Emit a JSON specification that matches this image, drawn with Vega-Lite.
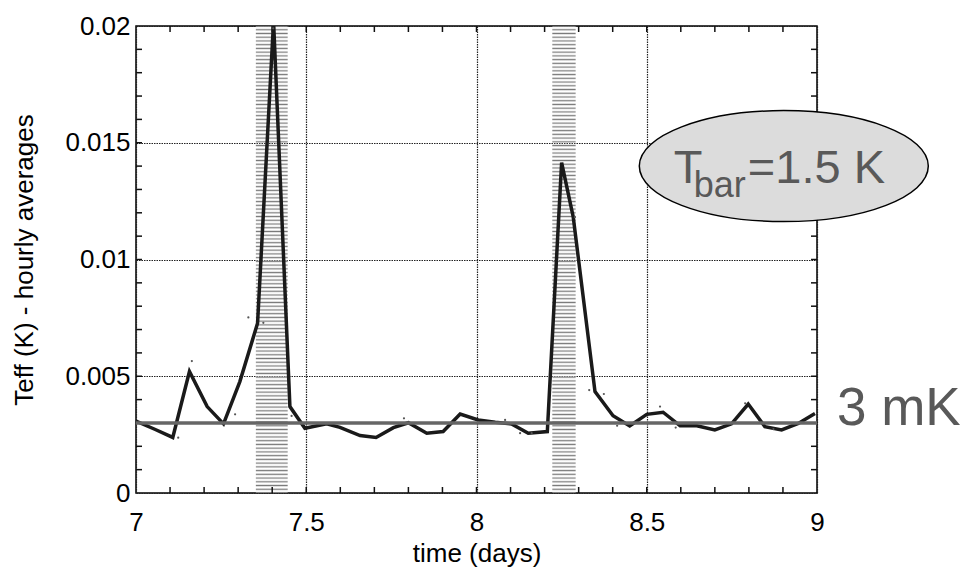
{
  "$schema": "https://vega.github.io/schema/vega-lite/v6.json",
  "width": 681,
  "height": 467,
  "autosize": "none",
  "padding": {"left": 136, "top": 26, "right": 146, "bottom": 77},
  "background": "white",
  "config": {"view": {"stroke": "#000", "strokeWidth": 1.5}, "font": "Liberation Sans"},
  "datasets": {
    "series": [
      {"t": 7.0, "teff": 0.00308}, {"t": 7.055, "teff": 0.00273}, {"t": 7.108, "teff": 0.00238},
      {"t": 7.157, "teff": 0.0052}, {"t": 7.209, "teff": 0.0037}, {"t": 7.257, "teff": 0.00296},
      {"t": 7.305, "teff": 0.00477}, {"t": 7.357, "teff": 0.00727}, {"t": 7.404, "teff": 0.0202},
      {"t": 7.452, "teff": 0.0037}, {"t": 7.496, "teff": 0.00277}, {"t": 7.56, "teff": 0.00296},
      {"t": 7.599, "teff": 0.00281}, {"t": 7.658, "teff": 0.00246}, {"t": 7.705, "teff": 0.00238},
      {"t": 7.756, "teff": 0.0028}, {"t": 7.8, "teff": 0.00301}, {"t": 7.854, "teff": 0.00256},
      {"t": 7.902, "teff": 0.00263}, {"t": 7.952, "teff": 0.00338}, {"t": 8.005, "teff": 0.00313},
      {"t": 8.055, "teff": 0.00303}, {"t": 8.103, "teff": 0.00296}, {"t": 8.152, "teff": 0.00256},
      {"t": 8.208, "teff": 0.00263}, {"t": 8.25, "teff": 0.01415}, {"t": 8.284, "teff": 0.01183},
      {"t": 8.348, "teff": 0.00434}, {"t": 8.401, "teff": 0.00331}, {"t": 8.45, "teff": 0.00287},
      {"t": 8.5, "teff": 0.00337}, {"t": 8.548, "teff": 0.00346}, {"t": 8.598, "teff": 0.00288},
      {"t": 8.647, "teff": 0.00288}, {"t": 8.7, "teff": 0.0027}, {"t": 8.749, "teff": 0.00296},
      {"t": 8.798, "teff": 0.00381}, {"t": 8.847, "teff": 0.00284}, {"t": 8.896, "teff": 0.0027},
      {"t": 8.945, "teff": 0.00298}, {"t": 8.994, "teff": 0.00341}
    ],
    "raw": [
      {"t": 7.33, "teff": 0.00752}, {"t": 7.164, "teff": 0.00565}, {"t": 7.124, "teff": 0.00237},
      {"t": 7.291, "teff": 0.00337}, {"t": 7.374, "teff": 0.00729}, {"t": 7.457, "teff": 0.0033},
      {"t": 7.787, "teff": 0.0032}, {"t": 8.084, "teff": 0.00313}, {"t": 8.128, "teff": 0.00256},
      {"t": 8.162, "teff": 0.00256}, {"t": 8.289, "teff": 0.01181}, {"t": 8.331, "teff": 0.00441},
      {"t": 8.374, "teff": 0.00424}, {"t": 8.413, "teff": 0.00288}, {"t": 8.539, "teff": 0.0037},
      {"t": 8.585, "teff": 0.0028}, {"t": 8.789, "teff": 0.00384}, {"t": 8.872, "teff": 0.00274},
      {"t": 7.403, "teff": 0.0199}
    ],
    "xticks": [
      {"v": 7.1}, {"v": 7.2}, {"v": 7.3}, {"v": 7.4}, {"v": 7.5}, {"v": 7.6}, {"v": 7.7}, {"v": 7.8}, {"v": 7.9},
      {"v": 8}, {"v": 8.1}, {"v": 8.2}, {"v": 8.3}, {"v": 8.4}, {"v": 8.5}, {"v": 8.6}, {"v": 8.7}, {"v": 8.8}, {"v": 8.9}
    ],
    "yticks": [
      {"v": 0.001}, {"v": 0.002}, {"v": 0.003}, {"v": 0.004}, {"v": 0.005}, {"v": 0.006}, {"v": 0.007}, {"v": 0.008}, {"v": 0.009},
      {"v": 0.01}, {"v": 0.011}, {"v": 0.012}, {"v": 0.013}, {"v": 0.014}, {"v": 0.015}, {"v": 0.016}, {"v": 0.017}, {"v": 0.018}, {"v": 0.019}
    ],
    "bands": [{"start": 7.352, "end": 7.4455}, {"start": 8.2226, "end": 8.2912}],
    "note": [{"x": 8.9025, "y": 0.014}],
    "level": [{"x": 7, "x2": 9, "y": 0.003, "label": "3 mK"}]
  },
  "resolve": {"axis": {"x": "independent", "y": "independent"}},
  "layer": [
    {
      "data": {"name": "bands"},
      "mark": {
        "type": "rect",
        "fill": {
          "gradient": "linear", "x1": 0, "y1": 0, "x2": 0, "y2": 1,
          "stops": [
            {"offset": 0, "color": "#777"}, {"offset": 0.004, "color": "#fff0"}, {"offset": 0.008, "color": "#777"}, {"offset": 0.012, "color": "#fff0"}, {"offset": 0.016, "color": "#777"}, {"offset": 0.02, "color": "#fff0"}, {"offset": 0.024, "color": "#777"}, {"offset": 0.028, "color": "#fff0"}, {"offset": 0.032, "color": "#777"}, {"offset": 0.036, "color": "#fff0"},
            {"offset": 0.04, "color": "#777"}, {"offset": 0.044, "color": "#fff0"}, {"offset": 0.048, "color": "#777"}, {"offset": 0.052, "color": "#fff0"}, {"offset": 0.056, "color": "#777"}, {"offset": 0.06, "color": "#fff0"}, {"offset": 0.064, "color": "#777"}, {"offset": 0.068, "color": "#fff0"}, {"offset": 0.072, "color": "#777"}, {"offset": 0.076, "color": "#fff0"},
            {"offset": 0.08, "color": "#777"}, {"offset": 0.084, "color": "#fff0"}, {"offset": 0.088, "color": "#777"}, {"offset": 0.092, "color": "#fff0"}, {"offset": 0.096, "color": "#777"}, {"offset": 0.1, "color": "#fff0"}, {"offset": 0.104, "color": "#777"}, {"offset": 0.108, "color": "#fff0"}, {"offset": 0.112, "color": "#777"}, {"offset": 0.116, "color": "#fff0"},
            {"offset": 0.12, "color": "#777"}, {"offset": 0.124, "color": "#fff0"}, {"offset": 0.128, "color": "#777"}, {"offset": 0.132, "color": "#fff0"}, {"offset": 0.136, "color": "#777"}, {"offset": 0.14, "color": "#fff0"}, {"offset": 0.144, "color": "#777"}, {"offset": 0.148, "color": "#fff0"}, {"offset": 0.152, "color": "#777"}, {"offset": 0.156, "color": "#fff0"},
            {"offset": 0.16, "color": "#777"}, {"offset": 0.164, "color": "#fff0"}, {"offset": 0.168, "color": "#777"}, {"offset": 0.172, "color": "#fff0"}, {"offset": 0.176, "color": "#777"}, {"offset": 0.18, "color": "#fff0"}, {"offset": 0.184, "color": "#777"}, {"offset": 0.188, "color": "#fff0"}, {"offset": 0.192, "color": "#777"}, {"offset": 0.196, "color": "#fff0"},
            {"offset": 0.2, "color": "#777"}, {"offset": 0.204, "color": "#fff0"}, {"offset": 0.208, "color": "#777"}, {"offset": 0.212, "color": "#fff0"}, {"offset": 0.216, "color": "#777"}, {"offset": 0.22, "color": "#fff0"}, {"offset": 0.224, "color": "#777"}, {"offset": 0.228, "color": "#fff0"}, {"offset": 0.232, "color": "#777"}, {"offset": 0.236, "color": "#fff0"},
            {"offset": 0.24, "color": "#777"}, {"offset": 0.244, "color": "#fff0"}, {"offset": 0.248, "color": "#777"}, {"offset": 0.252, "color": "#fff0"}, {"offset": 0.256, "color": "#777"}, {"offset": 0.26, "color": "#fff0"}, {"offset": 0.264, "color": "#777"}, {"offset": 0.268, "color": "#fff0"}, {"offset": 0.272, "color": "#777"}, {"offset": 0.276, "color": "#fff0"},
            {"offset": 0.28, "color": "#777"}, {"offset": 0.284, "color": "#fff0"}, {"offset": 0.288, "color": "#777"}, {"offset": 0.292, "color": "#fff0"}, {"offset": 0.296, "color": "#777"}, {"offset": 0.3, "color": "#fff0"}, {"offset": 0.304, "color": "#777"}, {"offset": 0.308, "color": "#fff0"}, {"offset": 0.312, "color": "#777"}, {"offset": 0.316, "color": "#fff0"},
            {"offset": 0.32, "color": "#777"}, {"offset": 0.324, "color": "#fff0"}, {"offset": 0.328, "color": "#777"}, {"offset": 0.332, "color": "#fff0"}, {"offset": 0.336, "color": "#777"}, {"offset": 0.34, "color": "#fff0"}, {"offset": 0.344, "color": "#777"}, {"offset": 0.348, "color": "#fff0"}, {"offset": 0.352, "color": "#777"}, {"offset": 0.356, "color": "#fff0"},
            {"offset": 0.36, "color": "#777"}, {"offset": 0.364, "color": "#fff0"}, {"offset": 0.368, "color": "#777"}, {"offset": 0.372, "color": "#fff0"}, {"offset": 0.376, "color": "#777"}, {"offset": 0.38, "color": "#fff0"}, {"offset": 0.384, "color": "#777"}, {"offset": 0.388, "color": "#fff0"}, {"offset": 0.392, "color": "#777"}, {"offset": 0.396, "color": "#fff0"},
            {"offset": 0.4, "color": "#777"}, {"offset": 0.404, "color": "#fff0"}, {"offset": 0.408, "color": "#777"}, {"offset": 0.412, "color": "#fff0"}, {"offset": 0.416, "color": "#777"}, {"offset": 0.42, "color": "#fff0"}, {"offset": 0.424, "color": "#777"}, {"offset": 0.428, "color": "#fff0"}, {"offset": 0.432, "color": "#777"}, {"offset": 0.436, "color": "#fff0"},
            {"offset": 0.44, "color": "#777"}, {"offset": 0.444, "color": "#fff0"}, {"offset": 0.448, "color": "#777"}, {"offset": 0.452, "color": "#fff0"}, {"offset": 0.456, "color": "#777"}, {"offset": 0.46, "color": "#fff0"}, {"offset": 0.464, "color": "#777"}, {"offset": 0.468, "color": "#fff0"}, {"offset": 0.472, "color": "#777"}, {"offset": 0.476, "color": "#fff0"},
            {"offset": 0.48, "color": "#777"}, {"offset": 0.484, "color": "#fff0"}, {"offset": 0.488, "color": "#777"}, {"offset": 0.492, "color": "#fff0"}, {"offset": 0.496, "color": "#777"}, {"offset": 0.5, "color": "#fff0"}, {"offset": 0.504, "color": "#777"}, {"offset": 0.508, "color": "#fff0"}, {"offset": 0.512, "color": "#777"}, {"offset": 0.516, "color": "#fff0"},
            {"offset": 0.52, "color": "#777"}, {"offset": 0.524, "color": "#fff0"}, {"offset": 0.528, "color": "#777"}, {"offset": 0.532, "color": "#fff0"}, {"offset": 0.536, "color": "#777"}, {"offset": 0.54, "color": "#fff0"}, {"offset": 0.544, "color": "#777"}, {"offset": 0.548, "color": "#fff0"}, {"offset": 0.552, "color": "#777"}, {"offset": 0.556, "color": "#fff0"},
            {"offset": 0.56, "color": "#777"}, {"offset": 0.564, "color": "#fff0"}, {"offset": 0.568, "color": "#777"}, {"offset": 0.572, "color": "#fff0"}, {"offset": 0.576, "color": "#777"}, {"offset": 0.58, "color": "#fff0"}, {"offset": 0.584, "color": "#777"}, {"offset": 0.588, "color": "#fff0"}, {"offset": 0.592, "color": "#777"}, {"offset": 0.596, "color": "#fff0"},
            {"offset": 0.6, "color": "#777"}, {"offset": 0.604, "color": "#fff0"}, {"offset": 0.608, "color": "#777"}, {"offset": 0.612, "color": "#fff0"}, {"offset": 0.616, "color": "#777"}, {"offset": 0.62, "color": "#fff0"}, {"offset": 0.624, "color": "#777"}, {"offset": 0.628, "color": "#fff0"}, {"offset": 0.632, "color": "#777"}, {"offset": 0.636, "color": "#fff0"},
            {"offset": 0.64, "color": "#777"}, {"offset": 0.644, "color": "#fff0"}, {"offset": 0.648, "color": "#777"}, {"offset": 0.652, "color": "#fff0"}, {"offset": 0.656, "color": "#777"}, {"offset": 0.66, "color": "#fff0"}, {"offset": 0.664, "color": "#777"}, {"offset": 0.668, "color": "#fff0"}, {"offset": 0.672, "color": "#777"}, {"offset": 0.676, "color": "#fff0"},
            {"offset": 0.68, "color": "#777"}, {"offset": 0.684, "color": "#fff0"}, {"offset": 0.688, "color": "#777"}, {"offset": 0.692, "color": "#fff0"}, {"offset": 0.696, "color": "#777"}, {"offset": 0.7, "color": "#fff0"}, {"offset": 0.704, "color": "#777"}, {"offset": 0.708, "color": "#fff0"}, {"offset": 0.712, "color": "#777"}, {"offset": 0.716, "color": "#fff0"},
            {"offset": 0.72, "color": "#777"}, {"offset": 0.724, "color": "#fff0"}, {"offset": 0.728, "color": "#777"}, {"offset": 0.732, "color": "#fff0"}, {"offset": 0.736, "color": "#777"}, {"offset": 0.74, "color": "#fff0"}, {"offset": 0.744, "color": "#777"}, {"offset": 0.748, "color": "#fff0"}, {"offset": 0.752, "color": "#777"}, {"offset": 0.756, "color": "#fff0"},
            {"offset": 0.76, "color": "#777"}, {"offset": 0.764, "color": "#fff0"}, {"offset": 0.768, "color": "#777"}, {"offset": 0.772, "color": "#fff0"}, {"offset": 0.776, "color": "#777"}, {"offset": 0.78, "color": "#fff0"}, {"offset": 0.784, "color": "#777"}, {"offset": 0.788, "color": "#fff0"}, {"offset": 0.792, "color": "#777"}, {"offset": 0.796, "color": "#fff0"},
            {"offset": 0.8, "color": "#777"}, {"offset": 0.804, "color": "#fff0"}, {"offset": 0.808, "color": "#777"}, {"offset": 0.812, "color": "#fff0"}, {"offset": 0.816, "color": "#777"}, {"offset": 0.82, "color": "#fff0"}, {"offset": 0.824, "color": "#777"}, {"offset": 0.828, "color": "#fff0"}, {"offset": 0.832, "color": "#777"}, {"offset": 0.836, "color": "#fff0"},
            {"offset": 0.84, "color": "#777"}, {"offset": 0.844, "color": "#fff0"}, {"offset": 0.848, "color": "#777"}, {"offset": 0.852, "color": "#fff0"}, {"offset": 0.856, "color": "#777"}, {"offset": 0.86, "color": "#fff0"}, {"offset": 0.864, "color": "#777"}, {"offset": 0.868, "color": "#fff0"}, {"offset": 0.872, "color": "#777"}, {"offset": 0.876, "color": "#fff0"},
            {"offset": 0.88, "color": "#777"}, {"offset": 0.884, "color": "#fff0"}, {"offset": 0.888, "color": "#777"}, {"offset": 0.892, "color": "#fff0"}, {"offset": 0.896, "color": "#777"}, {"offset": 0.9, "color": "#fff0"}, {"offset": 0.904, "color": "#777"}, {"offset": 0.908, "color": "#fff0"}, {"offset": 0.912, "color": "#777"}, {"offset": 0.916, "color": "#fff0"},
            {"offset": 0.92, "color": "#777"}, {"offset": 0.924, "color": "#fff0"}, {"offset": 0.928, "color": "#777"}, {"offset": 0.932, "color": "#fff0"}, {"offset": 0.936, "color": "#777"}, {"offset": 0.94, "color": "#fff0"}, {"offset": 0.944, "color": "#777"}, {"offset": 0.948, "color": "#fff0"}, {"offset": 0.952, "color": "#777"}, {"offset": 0.956, "color": "#fff0"},
            {"offset": 0.96, "color": "#777"}, {"offset": 0.964, "color": "#fff0"}, {"offset": 0.968, "color": "#777"}, {"offset": 0.972, "color": "#fff0"}, {"offset": 0.976, "color": "#777"}, {"offset": 0.98, "color": "#fff0"}, {"offset": 0.984, "color": "#777"}, {"offset": 0.988, "color": "#fff0"}, {"offset": 0.992, "color": "#777"}, {"offset": 0.996, "color": "#fff0"},
            {"offset": 1, "color": "#777"}
          ]
        }
      },
      "encoding": {
        "x": {
          "field": "start", "type": "quantitative",
          "scale": {"domain": [7, 9], "nice": false, "zero": false},
          "axis": {
            "orient": "bottom", "values": [7, 7.5, 8, 8.5, 9], "ticks": false, "domain": false,
            "grid": true, "gridColor": "#222", "gridDash": [1.5, 1], "gridWidth": 1.2,
            "labelExpr": "datum.value + ''", "labelFont": "Liberation Sans", "labelFontSize": 26,
            "labelColor": "#000", "labelBaseline": "alphabetic", "labelPadding": 37,
            "labelFlush": false, "labelOverlap": false,
            "title": "time (days)", "titleFont": "Liberation Sans", "titleFontSize": 26,
            "titleFontWeight": "normal", "titleColor": "#000", "titleBaseline": "alphabetic",
            "titleAlign": "center", "titleX": 340.5, "titleY": 68
          }
        },
        "x2": {"field": "end"},
        "y": {
          "datum": 0, "type": "quantitative",
          "scale": {"domain": [0, 0.02], "nice": false, "zero": false},
          "axis": {
            "orient": "left", "values": [0, 0.005, 0.01, 0.015, 0.02], "ticks": false, "domain": false,
            "grid": true, "gridColor": "#222", "gridDash": [1.5, 1], "gridWidth": 1.2,
            "labelExpr": "datum.value + ''", "labelFont": "Liberation Sans", "labelFontSize": 26,
            "labelColor": "#000", "labelBaseline": "middle", "labelAlign": "right", "labelPadding": 6,
            "labelFlush": false, "labelOverlap": false,
            "title": "Teff (K) - hourly averages", "titleFont": "Liberation Sans", "titleFontSize": 26,
            "titleFontWeight": "normal", "titleColor": "#000", "titleBaseline": "alphabetic",
            "titleAngle": 270, "titleAlign": "center", "titleX": -104, "titleY": 233.5
          }
        },
        "y2": {"datum": 0.02}
      }
    },
    {
      "data": {"name": "xticks"},
      "mark": {"type": "tick", "orient": "vertical", "size": 12, "thickness": 1.5, "color": "#111", "opacity": 1, "clip": true},
      "encoding": {
        "x": {"field": "v", "type": "quantitative", "axis": null},
        "y": {"datum": 0, "type": "quantitative", "axis": null}
      }
    },
    {
      "data": {"name": "xticks"},
      "mark": {"type": "tick", "orient": "vertical", "size": 12, "thickness": 1.5, "color": "#111", "opacity": 1, "clip": true},
      "encoding": {
        "x": {"field": "v", "type": "quantitative", "axis": null},
        "y": {"datum": 0.02, "type": "quantitative", "axis": null}
      }
    },
    {
      "data": {"name": "yticks"},
      "mark": {"type": "tick", "orient": "horizontal", "size": 12, "thickness": 1.5, "color": "#111", "opacity": 1, "clip": true},
      "encoding": {
        "x": {"datum": 7, "type": "quantitative", "axis": null},
        "y": {"field": "v", "type": "quantitative", "axis": null}
      }
    },
    {
      "data": {"name": "yticks"},
      "mark": {"type": "tick", "orient": "horizontal", "size": 12, "thickness": 1.5, "color": "#111", "opacity": 1, "clip": true},
      "encoding": {
        "x": {"datum": 9, "type": "quantitative", "axis": null},
        "y": {"field": "v", "type": "quantitative", "axis": null}
      }
    },
    {
      "data": {"name": "series"},
      "mark": {"type": "line", "color": "#1a1a1a", "strokeWidth": 3.5, "clip": true},
      "encoding": {
        "x": {"field": "t", "type": "quantitative", "axis": null},
        "y": {"field": "teff", "type": "quantitative", "axis": null}
      }
    },
    {
      "data": {"name": "raw"},
      "mark": {"type": "point", "filled": true, "size": 5, "color": "#555", "opacity": 1},
      "encoding": {
        "x": {"field": "t", "type": "quantitative", "axis": null},
        "y": {"field": "teff", "type": "quantitative", "axis": null}
      }
    },
    {
      "data": {"name": "level"},
      "mark": {"type": "rule", "color": "#666", "strokeWidth": 3.5},
      "encoding": {
        "x": {"field": "x", "type": "quantitative", "axis": null},
        "x2": {"field": "x2"},
        "y": {"field": "y", "type": "quantitative", "axis": null}
      }
    },
    {
      "data": {"name": "level"},
      "mark": {"type": "text", "align": "left", "baseline": "alphabetic", "dx": 20, "dy": 2, "font": "Liberation Sans", "fontSize": 53, "color": "#595959"},
      "encoding": {
        "x": {"field": "x2", "type": "quantitative", "axis": null},
        "y": {"field": "y", "type": "quantitative", "axis": null},
        "text": {"field": "label"}
      }
    },
    {
      "data": {"name": "note"},
      "mark": {"type": "point", "shape": "M-1,0A1,0.384,0,1,1,1,0A1,0.384,0,1,1,-1,0Z", "size": 83521, "fill": "#dcdcdc", "stroke": "#000", "strokeWidth": 1.5, "opacity": 1, "fillOpacity": 1, "filled": true},
      "encoding": {
        "x": {"field": "x", "type": "quantitative", "axis": null},
        "y": {"field": "y", "type": "quantitative", "axis": null}
      }
    },
    {
      "data": {"name": "note"},
      "mark": {"type": "text", "text": "T", "align": "left", "baseline": "alphabetic", "dx": -110, "dy": 17, "font": "Liberation Sans", "fontSize": 47, "color": "#595959"},
      "encoding": {
        "x": {"field": "x", "type": "quantitative", "axis": null},
        "y": {"field": "y", "type": "quantitative", "axis": null}
      }
    },
    {
      "data": {"name": "note"},
      "mark": {"type": "text", "text": "bar", "align": "left", "baseline": "alphabetic", "dx": -90, "dy": 31, "font": "Liberation Sans", "fontSize": 36, "color": "#595959"},
      "encoding": {
        "x": {"field": "x", "type": "quantitative", "axis": null},
        "y": {"field": "y", "type": "quantitative", "axis": null}
      }
    },
    {
      "data": {"name": "note"},
      "mark": {"type": "text", "text": "=1.5 K", "align": "left", "baseline": "alphabetic", "dx": -36, "dy": 17, "font": "Liberation Sans", "fontSize": 47, "color": "#595959"},
      "encoding": {
        "x": {"field": "x", "type": "quantitative", "axis": null},
        "y": {"field": "y", "type": "quantitative", "axis": null}
      }
    }
  ]
}
